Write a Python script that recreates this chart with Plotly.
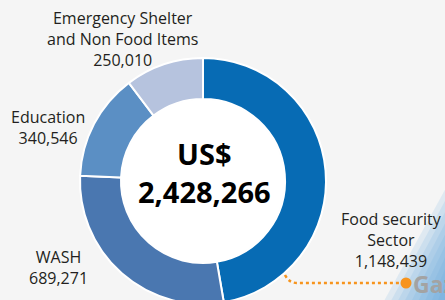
import plotly.graph_objects as go

# ---- data ----
sectors = ["Food security Sector", "WASH", "Education", "Emergency Shelter and Non Food Items"]
label_lines = [["Food security", "Sector"], ["WASH"], ["Education"], ["Emergency Shelter", "and Non Food Items"]]
values = [1148439, 689271, 340546, 250010]
colors = ["#076bb4", "#4a77b0", "#5b8fc4", "#b6c3de"]
total_label = "US$"
place_lines = ["Gaza", "Strip"]

W, H = 445, 310
CX, CY, R = 203, 181, 123
HOLE = 0.667

total = sum(values)

fig = go.Figure()
fig.add_trace(go.Pie(
    labels=sectors, values=values, sort=False, direction="clockwise", rotation=0,
    hole=HOLE, textinfo="none", hoverinfo="none",
    marker=dict(colors=colors, line=dict(color="white", width=2)),
    domain=dict(x=[(CX - R) / W, (CX + R) / W], y=[(H - (CY + R)) / H, (H - (CY - R)) / H]),
    showlegend=False,
))

shapes = []
# decorative gradient in the lower-right corner
for k in range(9):
    t = k * 7
    shapes.append(dict(type="path", xref="x", yref="y", layer="below",
                       path=f"M {378 + t} {312} L {447} {186 + t * 1.6} L 447 312 Z",
                       fillcolor="rgb(95,165,222)", opacity=0.14, line=dict(width=0)))
# white hole
rh = R * HOLE - 0.5
shapes.append(dict(type="circle", xref="x", yref="y", layer="above",
                   x0=CX - rh, x1=CX + rh, y0=CY - rh, y1=CY + rh,
                   fillcolor="white", line=dict(width=0)))
# orange leader line
shapes.append(dict(type="path", xref="x", yref="y", layer="above",
                   path="M 285 275 Q 289 283 297 283 L 403 283",
                   line=dict(color="#f7941d", width=2.5, dash="dot")))
shapes.append(dict(type="circle", xref="x", yref="y", layer="above",
                   x0=400.5, x1=411.5, y0=277.5, y1=288.5,
                   fillcolor="#f7941d", line=dict(width=0)))

font = dict(family="'Open Sans', 'Noto Sans', sans-serif", size=16, color="#231f20")
label_pos = [(391, 240), (58, 267), (48, 127), (122, 39)]
annotations = []
for lines, v, (x, y) in zip(label_lines, values, label_pos):
    txt = "<br>".join(lines + [f"{v:,}"])
    annotations.append(dict(x=x, y=y, xref="x", yref="y", text=txt, showarrow=False,
                            xanchor="center", yanchor="middle", align="center", font=font))
big = dict(family="'Open Sans', sans-serif", size=29, color="#000000")
annotations.append(dict(x=CX + 1, y=172, xref="x", yref="y",
                        text=f"<b>{total_label}<br>{total:,}</b>",
                        showarrow=False, xanchor="center", yanchor="middle", align="center", font=big))
annotations.append(dict(x=411, y=299, xref="x", yref="y",
                        text="<b>" + "<br>".join(place_lines) + "</b>", showarrow=False,
                        xanchor="left", yanchor="middle", align="left",
                        font=dict(family="'Open Sans', sans-serif", size=23, color="#a3a3a3")))

fig.update_layout(
    width=W, height=H, margin=dict(l=0, r=0, t=0, b=0),
    paper_bgcolor="#f5f5f5", plot_bgcolor="rgba(0,0,0,0)",
    xaxis=dict(range=[0, W], visible=False, fixedrange=True, domain=[0, 1]),
    yaxis=dict(range=[H, 0], visible=False, fixedrange=True, domain=[0, 1]),
    shapes=shapes, annotations=annotations,
)

fig.write_html("out.html", config={"displayModeBar": False},
               post_script="document.body.style.margin='0';document.body.style.overflow='hidden';document.documentElement.style.overflow='hidden';")
